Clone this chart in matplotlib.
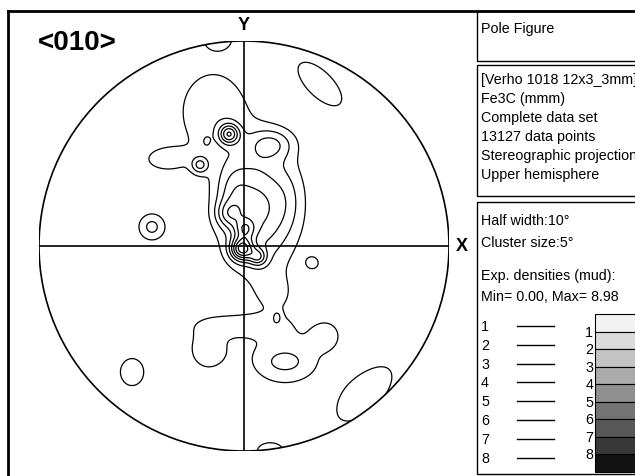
import numpy as np
import matplotlib
matplotlib.use("Agg")
import matplotlib.pyplot as plt
from matplotlib.patches import Circle, Rectangle

plt.rcParams['font.family'] = ['Liberation Sans', 'DejaVu Sans']

# ---- data: density clusters (unit-circle coords) ----
clu_u = [-0.151, -0.385, -0.073, -0.215, -0.185, 0.137, 0.068, -0.059, -0.078, 0.005,
         -0.010, 0.068, 0.220, 0.151, 0.161, 0.337, -0.449, -0.127, 0.371, -0.020,
         -0.180, 0.200, 0.200, 0.400, -0.546, 0.590, 0.127]
clu_v = [0.654, 0.424, 0.546, 0.395, 0.507, 0.498, 0.180, 0.254, 0.156, 0.083,
         -0.015, -0.054, 0.229, -0.234, -0.346, -0.083, 0.093, 1.010, 0.790, -0.385,
         -0.502, -0.551, -0.566, -0.434, -0.615, -0.722, -1.000]
clu_sa = [0.141, 0.088, 0.034, 0.029, 0.022, 0.078, 0.122, 0.059, 0.044, 0.034,
          0.039, 0.029, 0.059, 0.078, 0.015, 0.035, 0.049, 0.059, 0.151, 0.146,
          0.078, 0.156, 0.059, 0.049, 0.063, 0.185, 0.068]
clu_sb = [0.176, 0.049, 0.034, 0.029, 0.029, 0.054, 0.200, 0.107, 0.044, 0.034,
          0.039, 0.029, 0.122, 0.078, 0.022, 0.035, 0.049, 0.044, 0.068, 0.039,
          0.088, 0.117, 0.034, 0.049, 0.073, 0.088, 0.044]
clu_ang = [0, 0, 0, 0, 0, 0, 0, 0, 0, 0,
           0, 0, 0, 0, 0, 0, 0, 0, -45, 0,
           0, 0, 0, 0, 0, 45, 0]
clu_amp = [1.7, 1.4, 4.5, 2.6, 0.8, 2.3, 4.2, 1.5, 2.0, 2.5,
           5.5, 3.0, 0.8, 1.0, 1.3, 1.15, 2.3, 1.5, 1.5, 1.5,
           1.5, 1.6, 1.0, 1.5, 1.5, 1.5, 1.5]

levels = [1, 2, 3, 4, 5, 6, 7, 8]
legend_labels = ['1', '2', '3', '4', '5', '6', '7', '8']
band_grays = [0.95, 0.86, 0.77, 0.67, 0.56, 0.45, 0.34, 0.22, 0.07]

title = '<010>'
panel_head = 'Pole Figure'
info_lines = ['[Verho 1018 12x3_3mm]', 'Fe3C (mmm)', 'Complete data set',
              '13127 data points', 'Stereographic projection', 'Upper hemisphere']
param_lines = ['Half width:10°', 'Cluster size:5°']
dens_lines = ['Exp. densities (mud):', 'Min= 0.00, Max= 8.98']

# ---- figure ----
W, H = 635, 477
fig = plt.figure(figsize=(W / 100, H / 100), dpi=100)

cx, cy, R = 244, 247, 205
ax = fig.add_axes([(cx - R) / W, (H - cy - R) / H, 2 * R / W, 2 * R / H])
ax.set_xlim(-1, 1)
ax.set_ylim(-1, 1)
ax.axis('off')

g = np.linspace(-1.02, 1.02, 700)
U, V = np.meshgrid(g, g)
Z = np.zeros_like(U)
for u0, v0, sa, sb, an, a in zip(clu_u, clu_v, clu_sa, clu_sb, clu_ang, clu_amp):
    t = np.deg2rad(an)
    du, dv = U - u0, V - v0
    p = du * np.cos(t) + dv * np.sin(t)
    q = -du * np.sin(t) + dv * np.cos(t)
    Z += a * np.exp(-0.5 * ((p / sa) ** 2 + (q / sb) ** 2))

circ = Circle((0, 0), 1, fill=False, ec='black', lw=1.2, zorder=3)
ax.add_patch(circ)
cs = ax.contour(U, V, Z, levels=levels, colors='black', linewidths=0.9)
clip = Circle((0, 0), 1, transform=ax.transData)
cs.set_clip_path(clip)
ax.plot([-1, 1], [0, 0], color='black', lw=1.2)
ax.plot([0, 0], [-1, 1], color='black', lw=1.2)

# ---- overlay in pixel coordinates ----
ov = fig.add_axes([0, 0, 1, 1], zorder=5)
ov.set_xlim(0, W)
ov.set_ylim(H, 0)
ov.axis('off')
ov.patch.set_alpha(0)

ov.plot([8, W], [12, 12], color='black', lw=2.0)
ov.plot([8, 8], [12, H], color='black', lw=2.0)

ov.text(77, 43, title, fontsize=20, fontweight='bold', ha='center', va='center')
ov.text(244, 26, 'Y', fontsize=13, fontweight='bold', ha='center', va='center')
ov.text(462, 247, 'X', fontsize=13, fontweight='bold', ha='center', va='center')

for (y0, y1) in [(12, 62), (66, 197), (203, 475)]:
    ov.add_patch(Rectangle((477, y0), 200, y1 - y0, fill=False, ec='black', lw=1.0,
                           clip_on=False))

fs = 10.3
ov.text(481, 29, panel_head, fontsize=fs, va='center')
for i, s in enumerate(info_lines):
    ov.text(481, 80 + i * 19.1, s, fontsize=fs, va='center')
ov.text(481, 221, param_lines[0], fontsize=fs, va='center')
ov.text(481, 243, param_lines[1], fontsize=fs, va='center')
ov.text(481, 276, dens_lines[0], fontsize=fs, va='center')
ov.text(481, 297, dens_lines[1], fontsize=fs, va='center')

for i, lab in enumerate(legend_labels):
    y = 327 + i * 18.8
    ov.text(481, y, lab, fontsize=fs, va='center')
    ov.plot([517, 554], [y, y], color='black', lw=1.0)

top, bot = 315, 473
bh = (bot - top) / len(band_grays)
for i, gcol in enumerate(band_grays):
    ov.add_patch(Rectangle((595, top + i * bh), 50, bh, fc=str(gcol), ec='black',
                           lw=0.8, clip_on=False))
for i, lab in enumerate(legend_labels):
    ov.text(593, top + (i + 1) * bh, lab, fontsize=fs, ha='right', va='center')

fig.savefig('out.png', dpi=100)
